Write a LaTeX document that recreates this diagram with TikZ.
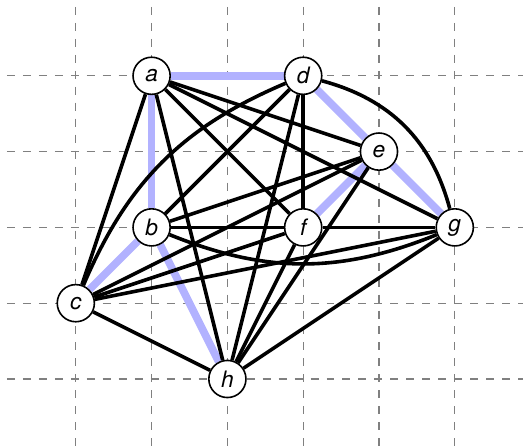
\documentclass[tikz,border=0pt]{standalone}
\usepackage{fontspec}
\setsansfont{TeX Gyre Heros}
\usetikzlibrary{backgrounds}
\tikzset{
  vertex/.style={circle, draw, line width=0.6pt, fill=white, minimum size=0.49cm, inner sep=0pt,
    font=\fontsize{8.5}{9}\selectfont\sffamily\itshape},
  edge/.style={line width=1.35pt, black},
  tree/.style={line width=2.9pt, blue!30},
  gridline/.style={gray, line width=0.4pt, dashed}
}
\begin{document}
\begin{tikzpicture}
\useasboundingbox (0,0.116) rectangle (6.9,6);
\node[vertex] (a) at (2,5) {a};
\node[vertex] (d) at (4,5) {d};
\node[vertex] (e) at (5,4) {e};
\node[vertex] (b) at (2,3) {b};
\node[vertex] (f) at (4,3) {f};
\node[vertex] (g) at (6,3) {g};
\node[vertex] (c) at (1,2) {c};
\node[vertex] (h) at (3,1) {h};
\begin{pgfonlayer}{background}
  \foreach \x in {1,...,6} \draw[gridline] (\x,5.91) -- (\x,0.116);
  \foreach \y in {1,...,5} \draw[gridline] (0.09,\y) -- (6.9,\y);
  % spanning tree
  \draw[tree] (a) -- (d);
  \draw[tree] (a) -- (b);
  \draw[tree] (d) -- (e);
  \draw[tree] (e) -- (g);
  \draw[tree] (e) -- (f);
  \draw[tree] (b) -- (c);
  \draw[tree] (b) -- (h);
  % other edges
  \draw[edge] (a) -- (c);
  \draw[edge] (a) -- (h);
  \draw[edge] (a) -- (e);
  \draw[edge] (a) -- (f);
  \draw[edge] (a) -- (g);
  \draw[edge] (b) -- (d);
  \draw[edge] (b) -- (e);
  \draw[edge] (b) -- (f);
  \draw[edge] (b) to[bend right=22] (g);
  \draw[edge] (d) to[bend right=22] (c);
  \draw[edge] (c) -- (e);
  \draw[edge] (c) -- (f);
  \draw[edge] (c) -- (g);
  \draw[edge] (c) -- (h);
  \draw[edge] (d) -- (f);
  \draw[edge] (d) -- (h);
  \draw[edge] (d) to[bend left=30] (g);
  \draw[edge] (e) -- (h);
  \draw[edge] (f) -- (g);
  \draw[edge] (f) -- (h);
  \draw[edge] (g) -- (h);
\end{pgfonlayer}
\end{tikzpicture}
\end{document}
